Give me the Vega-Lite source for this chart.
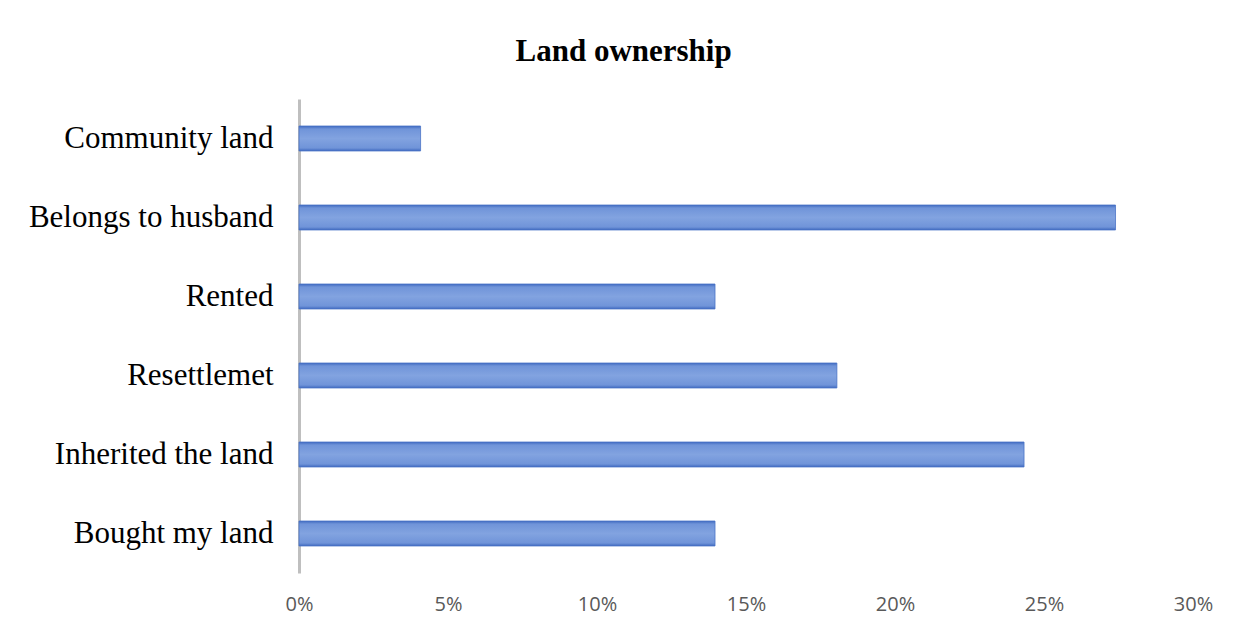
{
  "$schema": "https://vega.github.io/schema/vega-lite/v6.json",
  "width": 894,
  "height": 474,
  "autosize": {"type": "none"},
  "padding": {"left": 299, "top": 99, "right": 45, "bottom": 53},
  "background": "white",
  "config": {"view": {"stroke": null}},
  "title": {
    "text": "Land ownership",
    "font": "Liberation Serif",
    "fontSize": 31,
    "fontWeight": "bold",
    "color": "#000000",
    "anchor": "middle",
    "frame": "bounds",
    "offset": 31,
    "dx": 3
  },
  "data": {
    "values": [
      {"category": "Community land", "share": 0.0408},
      {"category": "Belongs to husband", "share": 0.274},
      {"category": "Rented", "share": 0.1396},
      {"category": "Resettlemet", "share": 0.1805},
      {"category": "Inherited the land", "share": 0.2433},
      {"category": "Bought my land", "share": 0.1396}
    ]
  },
  "mark": {
    "type": "bar",
    "fill": {
      "gradient": "linear",
      "x1": 0, "y1": 0, "x2": 0, "y2": 1,
      "stops": [
        {"offset": 0, "color": "#3f69bf"},
        {"offset": 0.12, "color": "#7094d9"},
        {"offset": 0.5, "color": "#82a3e0"},
        {"offset": 0.88, "color": "#7094d9"},
        {"offset": 1, "color": "#3f69bf"}
      ]
    },
    "stroke": "#4a74c6",
    "strokeWidth": 0.8
  },
  "encoding": {
    "y": {
      "field": "category",
      "type": "nominal",
      "sort": null,
      "scale": {"paddingInner": 0.684, "paddingOuter": 0.342},
      "axis": {
        "title": null,
        "ticks": false,
        "domainColor": "#bfbfbf",
        "domainWidth": 3,
        "labelFont": "Liberation Serif",
        "labelFontSize": 31,
        "labelColor": "#000000",
        "labelPadding": 26,
        "labelLimit": 400,
        "grid": false
      }
    },
    "x": {
      "field": "share",
      "type": "quantitative",
      "scale": {"domain": [0, 0.3], "nice": false},
      "axis": {
        "title": null,
        "format": ".0%",
        "values": [0, 0.05, 0.1, 0.15, 0.2, 0.25, 0.3],
        "domain": false,
        "ticks": false,
        "grid": false,
        "labelFont": "Open Sans",
        "labelFontSize": 20,
        "labelColor": "#595959",
        "labelPadding": 21,
        "labelFlush": false
      }
    }
  }
}
